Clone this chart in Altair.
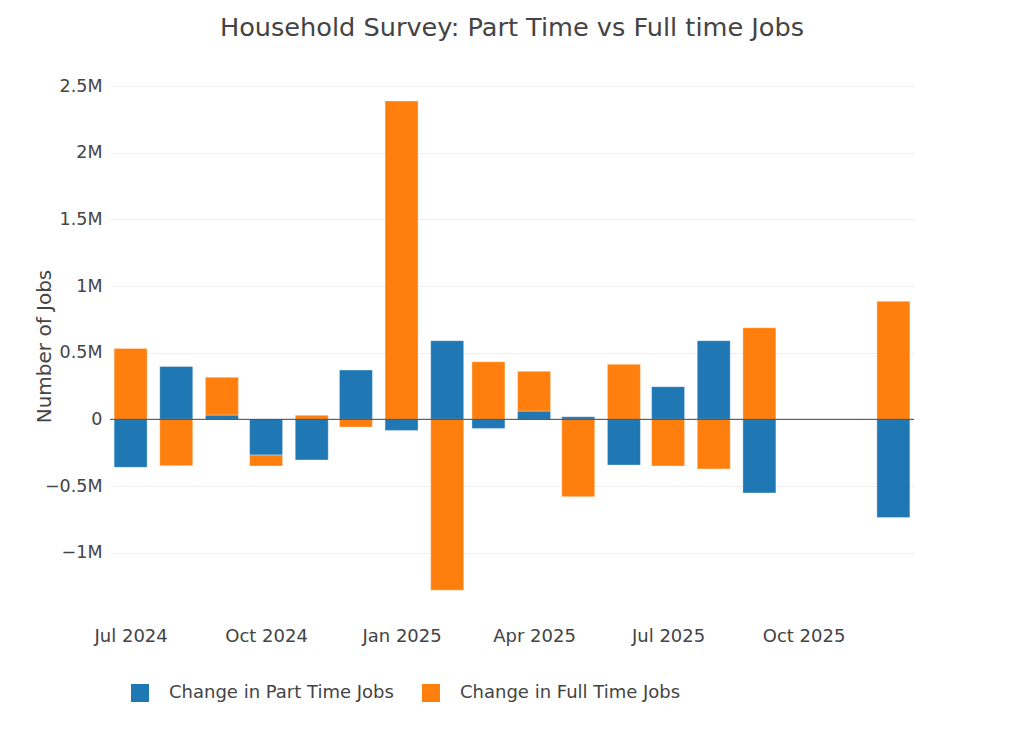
import altair as alt
import pandas as pd

# Data
months = [
    "2024-07-01", "2024-08-01", "2024-09-01", "2024-10-01", "2024-11-01", "2024-12-01",
    "2025-01-01", "2025-02-01", "2025-03-01", "2025-04-01", "2025-05-01", "2025-06-01",
    "2025-07-01", "2025-08-01", "2025-09-01", "2025-12-01",
]
part_time = [-360000, 397000, 32000, -268000, -305000, 370000, -83000, 590000,
             -68000, 62000, 20000, -343000, 245000, 590000, -552000, -737000]
full_time = [532000, -348000, 283000, -82000, 30000, -58000, 2388000, -1282000,
             432000, 298000, -580000, 413000, -350000, -372000, 687000, 885000]

series_names = ["Change in Part Time Jobs", "Change in Full Time Jobs"]
series_colors = ["#1f77b4", "#ff7f0e"]
x_tick_dates = [(2024, 7), (2024, 10), (2025, 1), (2025, 4), (2025, 7), (2025, 10)]
y_tick_values = [-1000000, -500000, 0, 500000, 1000000, 1500000, 2000000, 2500000]

rows = []
for m, p, f in zip(months, part_time, full_time):
    rows.append({"date": m, "series": series_names[0], "value": p, "ord": 0})
    rows.append({"date": m, "series": series_names[1], "value": f, "ord": 1})
df = pd.DataFrame(rows)

FONT = "DejaVu Sans"
TXT = "#444444"

x_scale = alt.Scale(
    type="utc",
    padding=0,
    domain=[alt.DateTime(year=2024, month=6, date=17, utc=True),
            alt.DateTime(year=2025, month=12, date=15, utc=True)],
)

bars = alt.Chart(df).mark_bar(size=33, stroke="white", strokeWidth=0.6, strokeOpacity=0.6).encode(
    x=alt.X(
        "date:T",
        scale=x_scale,
        axis=alt.Axis(
            title=None,
            values=[alt.DateTime(year=y, month=m, date=1, utc=True) for y, m in x_tick_dates],
            labelExpr="utcFormat(datum.value, '%b %Y')",
            ticks=False,
            domain=False,
            grid=False,
            labelPadding=9,
            labelFontSize=18,
            labelColor=TXT,
            labelFont=FONT,
        ),
    ),
    y=alt.Y(
        "value:Q",
        stack="zero",
        scale=alt.Scale(domain=[-1490000, 2590000], nice=False, zero=False),
        axis=alt.Axis(
            title="Number of Jobs",
            values=y_tick_values,
            labelExpr="datum.value == 0 ? '0' : (datum.value < 0 ? '\u2212' : '') + toString(abs(datum.value) / 1000000) + 'M'",
            ticks=False,
            domain=False,
            grid=True,
            gridColor="#eeeeee",
            gridWidth=1,
            labelPadding=8,
            labelFontSize=17.5,
            labelColor=TXT,
            labelFont=FONT,
            titleFontSize=20,
            titleFont=FONT,
            titleColor=TXT,
            titleFontWeight="normal",
            titleX=-66,
            titleY=272,
            titleAlign="center",
            titleBaseline="middle",
            titleAngle=270,
        ),
    ),
    color=alt.Color(
        "series:N",
        scale=alt.Scale(domain=series_names, range=series_colors),
        legend=alt.Legend(
            title=None,
            orient="none",
            direction="horizontal",
            legendX=21,
            legendY=610,
            symbolType="square",
            symbolSize=324,
            symbolStrokeWidth=0,
            labelFontSize=18,
            labelFont=FONT,
            labelColor=TXT,
            labelOffset=20,
            columnPadding=28,
            labelLimit=400,
        ),
    ),
    order=alt.Order("ord:Q", sort="ascending"),
)

zero_line = alt.Chart(pd.DataFrame({"v": [0]})).mark_rule(color="#444444", strokeWidth=1).encode(
    y=alt.Y("v:Q")
)

chart = alt.layer(bars, zero_line).properties(
    width=804,
    height=544,
    background="white",
    title=alt.TitleParams(
        "Household Survey: Part Time vs Full time Jobs",
        fontSize=25.6,
        font=FONT,
        color=TXT,
        fontWeight="normal",
        anchor="middle",
        baseline="middle",
        offset=20,
    ),
    autosize=alt.AutoSizeParams(type="none"),
    padding={"left": 102, "top": 66, "right": 102, "bottom": 100},
).configure_view(strokeWidth=0, stroke=None)

chart.save("out.html", embed_options={"renderer": "svg", "actions": False})
